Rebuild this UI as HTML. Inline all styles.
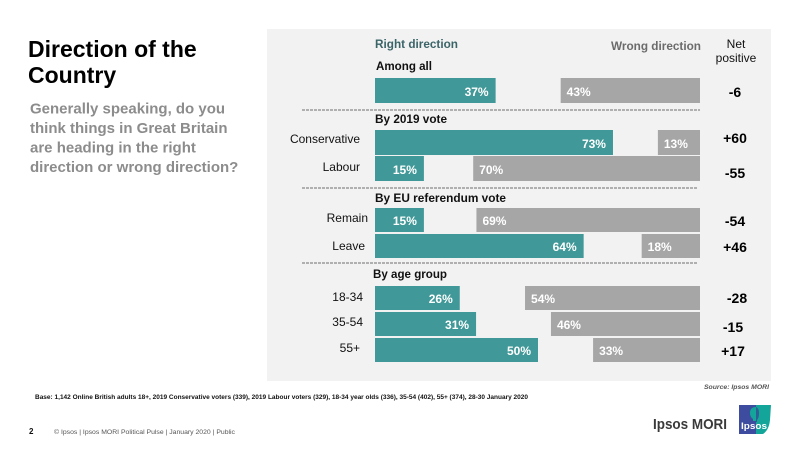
<!DOCTYPE html>
<html lang="en">
<head>
<meta charset="utf-8">
<title>Direction of the Country</title>
<style>
html,body{margin:0;padding:0;background:#fff;width:800px;height:450px;overflow:hidden}
svg{display:block;font-family:"Liberation Sans",Arial,sans-serif}
</style>
</head>
<body>
<svg id="chart" xmlns="http://www.w3.org/2000/svg" width="800" height="450" viewBox="0 0 800 450">
  <rect width="800" height="450" fill="#ffffff"/>
  <text font-size="23" font-weight="700" fill="#000">
    <tspan x="28" y="57">Direction of the</tspan><tspan x="28" y="83">Country</tspan>
  </text>
  <text font-size="15" font-weight="700" fill="#8c8c8c">
    <tspan x="30" y="113.500">Generally speaking, do you</tspan>
    <tspan x="30" y="133">think things in Great Britain</tspan>
    <tspan x="30" y="152.500">are heading in the right</tspan>
    <tspan x="30" y="172">direction or wrong direction?</tspan>
  </text>
  <rect x="267" y="29" width="504" height="352" fill="#f2f2f2"/>
  <text x="375" y="48" font-size="12" font-weight="700" fill="#3b6468" textLength="83" lengthAdjust="spacingAndGlyphs">Right direction</text>
  <text x="611" y="50" font-size="12" font-weight="700" fill="#6b6b6b" textLength="90" lengthAdjust="spacingAndGlyphs">Wrong direction</text>
  <text font-size="12" fill="#111" text-anchor="middle">
    <tspan x="736" y="48">Net</tspan><tspan x="736" y="62">positive</tspan>
  </text>
  <g id="groups"></g>
  <g id="dividers"></g>
  <g id="bars"></g>
  <text x="704" y="389" font-size="6.500" font-weight="700" font-style="italic" fill="#555" textLength="65" lengthAdjust="spacingAndGlyphs">Source: Ipsos MORI</text>
  <text x="35" y="399" font-size="6.500" font-weight="700" fill="#111" textLength="493" lengthAdjust="spacingAndGlyphs">Base: 1,142 Online British adults 18+, 2019 Conservative voters (339), 2019 Labour voters (329), 18-34 year olds (336), 35-54 (402), 55+ (374), 28-30 January 2020</text>
  <text x="29" y="434" font-size="8" font-weight="700" fill="#111">2</text>
  <text x="54" y="434" font-size="6.500" fill="#555" textLength="181" lengthAdjust="spacingAndGlyphs">© Ipsos | Ipsos MORI Political Pulse | January 2020 | Public</text>
  <text x="653" y="429" font-size="15" font-weight="700" fill="#3a3a3a" textLength="74" lengthAdjust="spacingAndGlyphs">Ipsos MORI</text>
  <g>
    <rect x="739" y="405" width="17" height="29" fill="#3d4c9e"/>
    <path d="M756 405H771L770 420Q769 430 763 434H756Z" fill="#14a59a"/>
    <path d="M756 407Q750 407 750 413Q750 417 753 419V421H756Z" fill="#14a59a"/>
    <path d="M756 407Q759 408 759 413Q759 418 757 420V422H756Z" fill="#2d5f96"/>
    <text x="741" y="429" font-size="9.500" font-weight="700" fill="#fff" textLength="26" lengthAdjust="spacingAndGlyphs">Ipsos</text>
  </g>
</svg>
<script>
var categories = ["All", "Conservative", "Labour", "Remain", "Leave", "18-34", "35-54", "55+"];
var rightValues = [37, 73, 15, 15, 64, 26, 31, 50];
var wrongValues = [43, 13, 70, 69, 18, 54, 46, 33];
var netValues = [-6, 60, -55, -54, 46, -28, -15, 17];
var groupNames = ["Among all", "By 2019 vote", "By EU referendum vote", "By age group"];
var groupOfRow = [0, 1, 1, 2, 2, 3, 3, 3];

var NS = "http://www.w3.org/2000/svg";
var groupTops = [78, 130, 208, 286];
var rowPitch = 26;
var X_RIGHT_ZERO = 375, X_WRONG_ZERO = 700;
var headingX = [376, 375, 375, 373];
var headingY = [70, 123, 202, 278];
var headingW = [56, 72, 131, 74];
var dividerY = [110, 188, 263];
var dividerEnd = [700, 697, 697];
var catEnd = [0, 360, 360, 368, 365, 363, 363, 360];
var catY = [0, 143, 171, 222, 250, 301, 326, 352];
var netX = [735, 735, 735, 735, 735, 737, 733, 733];
var netY = [97, 143, 178, 226, 252, 303, 332, 356];

function xRight(v) { return X_RIGHT_ZERO + v * 3.26; }
function xWrong(v) { return X_WRONG_ZERO - v * 3.24; }
function rowTop(i) {
  var g = groupOfRow[i];
  return groupTops[g] + (i - groupOfRow.indexOf(g)) * rowPitch;
}
function rowHeight(i) { return i < 3 ? 25 : 24; }
function make(tag, parent, attrs, text) {
  var el = document.createElementNS(NS, tag);
  for (var k in attrs) el.setAttribute(k, attrs[k]);
  if (text !== undefined) el.textContent = text;
  parent.appendChild(el);
  return el;
}

var groupsLayer = document.getElementById("groups");
groupNames.forEach(function (name, g) {
  var t = make("text", groupsLayer, { x: headingX[g], y: headingY[g], "font-size": 12, "font-weight": 700, fill: "#111", textLength: headingW[g], lengthAdjust: "spacingAndGlyphs" }, name);
  
  
});

var dividerLayer = document.getElementById("dividers");
dividerY.forEach(function (y, d) {
  var l = make("line", dividerLayer, { x1: 302, x2: dividerEnd[d], y1: y, y2: y, stroke: "#b0b0b0", "stroke-width": 2, "stroke-dasharray": "3 1" });
  
  
});

var barLayer = document.getElementById("bars");
categories.forEach(function (cat, i) {
  var top = rowTop(i), h = rowHeight(i), base = top + (h === 25 ? 18 : 17);
  var rEnd = xRight(rightValues[i]), wStart = xWrong(wrongValues[i]);

  var rb = make("rect", barLayer, { x: X_RIGHT_ZERO, y: top, width: rEnd - X_RIGHT_ZERO, height: h, fill: "#419898" });
  
  

  var wb = make("rect", barLayer, { x: wStart, y: top, width: X_WRONG_ZERO - wStart, height: h, fill: "#a6a6a6" });
  
  

  var rl = make("text", barLayer, { x: rEnd - 7, y: base, "text-anchor": "end", "font-size": 12, "font-weight": 700, fill: "#fff" }, rightValues[i] + "%");
  
  

  var wl = make("text", barLayer, { x: wStart + 6, y: base, "font-size": 12, "font-weight": 700, fill: "#fff" }, wrongValues[i] + "%");
  
  

  if (catEnd[i]) {
    var cl = make("text", barLayer, { x: catEnd[i], y: catY[i], "text-anchor": "end", "font-size": 12, fill: "#111" }, cat);
    
    
  }

  var n = netValues[i];
  var nl = make("text", barLayer, { x: netX[i], y: netY[i], "text-anchor": "middle", "font-size": 14, "font-weight": 700, fill: "#000" }, (n > 0 ? "+" : "") + n);
  
  
});
</script>
</body>
</html>
